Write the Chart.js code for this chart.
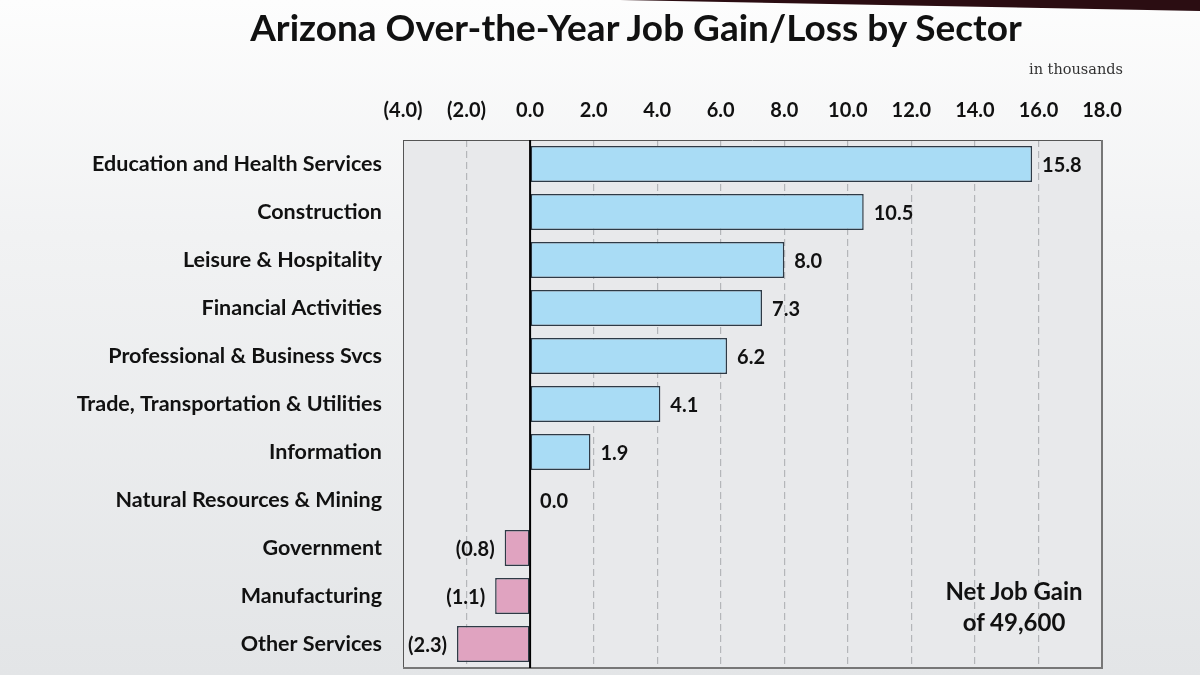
<!DOCTYPE html>
<html>
<head>
<meta charset="utf-8">
<script src="https://cdn.jsdelivr.net/npm/chart.js@4.4.1/dist/chart.umd.min.js"></script>
<style>
    html, body { margin: 0; padding: 0; }
    body {
        width: 1200px; height: 675px; overflow: hidden; position: relative;
        background: linear-gradient(180deg, #fdfdfd 0%, #f1f2f3 35%, #e3e5e7 100%);
        font-family: Lato, sans-serif;
    }
    #stripe {
        position: absolute; left: 0; top: 0; width: 1200px; height: 12px;
        background: #2b0d12;
        clip-path: polygon(620px 0, 1200px 0, 1200px 11px);
    }
    #title {
        position: absolute; left: 0; width: 1272px; top: 4px; text-align: center;
        font-weight: 700; font-size: 37px; color: #111;
    }
    #units {
        position: absolute; right: 77px; top: 61px;
        font-family: "DejaVu Serif", serif; font-size: 14.5px; color: #333;
    }
    #note {
        position: absolute; left: 914px; width: 200px; top: 575px; text-align: center;
        font-weight: 700; font-size: 24px; line-height: 31px; color: #111;
    }
    #wrap { position: absolute; left: 0; top: 0; width: 1200px; height: 675px; }
    canvas { display: block; }
</style>
</head>
<body>
<div id="stripe"></div>
<div id="wrap"><canvas id="jobs" width="1200" height="675"></canvas></div>
<div id="title">Arizona Over-the-Year Job Gain/Loss by Sector</div>
<div id="units">in thousands</div>
<div id="note">Net Job Gain<br>of 49,600</div>
<script>
const sectors = [
    'Education and Health Services',
    'Construction',
    'Leisure & Hospitality',
    'Financial Activities',
    'Professional & Business Svcs',
    'Trade, Transportation & Utilities',
    'Information',
    'Natural Resources & Mining',
    'Government',
    'Manufacturing',
    'Other Services'
];
const jobChange = [15.8, 10.5, 8.0, 7.3, 6.2, 4.1, 1.9, 0.0, -0.8, -1.1, -2.3];
const axisMin = -4;
const axisMax = 18;
const axisStep = 2;

const gainColour = '#a9dcf5';
const lossColour = '#e0a3c0';

function fmt(v) {
    return v < 0 ? '(' + Math.abs(v).toFixed(1) + ')' : v.toFixed(1);
}

// plot background, frame, zero line and value labels
const plotDecor = {
    id: 'plotDecor',
    beforeDraw(chart) {
        const { ctx, chartArea: a } = chart;
        ctx.save();
        ctx.fillStyle = '#e8e9eb';
        ctx.fillRect(a.left, a.top, a.right - a.left, a.bottom - a.top);
        ctx.restore();
    },
    afterDatasetsDraw(chart) {
        const { ctx, chartArea: a } = chart;
        const x = chart.scales.x;
        ctx.save();
        ctx.strokeStyle = '#555';
        ctx.lineWidth = 1;
        ctx.beginPath();
        ctx.moveTo(a.left + 0.5, a.top);
        ctx.lineTo(a.left + 0.5, a.bottom);
        ctx.moveTo(a.left, a.top + 0.5);
        ctx.lineTo(a.right, a.top + 0.5);
        ctx.stroke();
        ctx.strokeStyle = '#777';
        ctx.lineWidth = 2;
        ctx.beginPath();
        ctx.moveTo(a.right, a.top);
        ctx.lineTo(a.right, a.bottom);
        ctx.lineTo(a.left, a.bottom);
        ctx.stroke();

        const zx = x.getPixelForValue(0);
        ctx.strokeStyle = '#000';
        ctx.lineWidth = 2;
        ctx.beginPath();
        ctx.moveTo(zx, a.top);
        ctx.lineTo(zx, a.bottom);
        ctx.stroke();

        ctx.font = 'bold 20px Lato';
        ctx.fillStyle = '#111';
        ctx.textBaseline = 'middle';
        chart.getDatasetMeta(0).data.forEach((bar, i) => {
            const v = jobChange[i];
            if (v < 0) {
                ctx.textAlign = 'right';
                ctx.fillText(fmt(v), bar.x - 10, bar.y + 2);
            } else {
                ctx.textAlign = 'left';
                ctx.fillText(fmt(v), bar.x + 10, bar.y + 2);
            }
        });
        ctx.restore();
    }
};

const ctx = document.getElementById('jobs').getContext('2d');
const jobChart = new Chart(ctx, {
    type: 'bar',
    data: {
        labels: sectors,
        datasets: [{
            data: jobChange,
            backgroundColor: jobChange.map(v => v < 0 ? lossColour : gainColour),
            borderColor: '#2e3a46',
            borderWidth: 1.5,
            borderSkipped: false,
            barPercentage: 0.75,
            categoryPercentage: 1
        }]
    },
    options: {
        indexAxis: 'y',
        responsive: false,
        maintainAspectRatio: false,
        animation: false,
        layout: { padding: { top: 80, right: 98, bottom: 7, left: 0 } },
        plugins: { legend: { display: false }, tooltip: { enabled: false } },
        scales: {
            x: {
                position: 'top',
                min: axisMin,
                max: axisMax,
                afterFit: (s) => { s.height = 60; },
                border: { display: false, dash: [7, 4] },
                grid: {
                    drawTicks: false,
                    color: (c) => {
                        const v = c.tick ? c.tick.value : null;
                        return (v === axisMin || v === 0 || v === axisMax) ? 'rgba(0,0,0,0)' : '#b4b6b9';
                    },
                    lineWidth: 1.2
                },
                ticks: {
                    stepSize: axisStep,
                    padding: 17,
                    color: '#111',
                    font: { family: 'Lato', weight: 'bold', size: 20 },
                    callback: (v) => fmt(v)
                }
            },
            y: {
                afterFit: (s) => {
                    s.width = 403;
                    s.paddingTop = 0;
                    s.paddingBottom = 0;
                },
                border: { display: false },
                grid: { display: false, drawTicks: false },
                ticks: {
                    padding: 21,
                    color: '#111',
                    font: { family: 'Lato', weight: 'bold', size: 21.5 }
                }
            }
        }
    },
    plugins: [plotDecor]
});
</script>
</body>
</html>
